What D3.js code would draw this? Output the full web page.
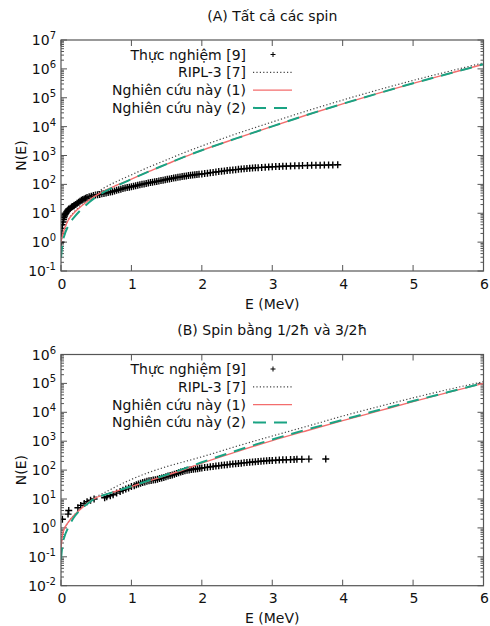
<!DOCTYPE html>
<html>
<head>
<meta charset="utf-8">
<script src="https://cdn.jsdelivr.net/npm/d3@7"></script>
<style>
  body { margin: 0; background: #fff; }
  svg { display: block; font-family: "DejaVu Sans", Verdana, sans-serif; }
</style>
</head>
<body>
<svg id="chart" width="490" height="626"></svg>
<script>
// ---- energies (MeV) at which the model curves are tabulated ----
const gridE = [0, 0.02, 0.05, 0.1, 0.2, 0.3, 0.4, 0.5, 0.6, 0.8, 1.0, 1.25, 1.5, 1.75, 2.0, 2.5, 3.0, 3.5, 4.0, 4.5, 5.0, 5.5, 6.0];

// ---- panel A: all spins, log10 N(E) ----
const riplA   = [0.0, 0.22, 0.47, 0.76, 1.08, 1.32, 1.53, 1.70, 1.86, 2.11, 2.33, 2.60, 2.85, 3.10, 3.33, 3.76, 4.16, 4.55, 4.92, 5.27, 5.60, 5.91, 6.21];
const model1A = [0.0, 0.22, 0.47, 0.75, 1.05, 1.27, 1.46, 1.62, 1.76, 1.98, 2.18, 2.45, 2.70, 2.95, 3.18, 3.60, 4.01, 4.41, 4.79, 5.15, 5.50, 5.83, 6.16];
const model2A = [-0.55, -0.05, 0.25, 0.55, 0.90, 1.16, 1.38, 1.57, 1.72, 1.96, 2.18, 2.45, 2.70, 2.95, 3.18, 3.60, 4.01, 4.41, 4.79, 5.15, 5.50, 5.83, 6.16];

// measured cumulative level counts, panel A
const expA_E = [0, 0.01, 0.015, 0.02, 0.03, 0.035, 0.04, 0.05, 0.06, 0.07, 0.08, 0.09, 0.10, 0.11, 0.13, 0.15, 0.16, 0.18, 0.19, 0.21, 0.23, 0.25, 0.27, 0.29, 0.31, 0.33, 0.35, 0.37, 0.40, 0.43, 0.46, 0.49,
  0.52, 0.55, 0.58, 0.61, 0.64, 0.67, 0.70, 0.73, 0.76, 0.79, 0.82, 0.85, 0.88, 0.91, 0.94, 0.97,
  1.00, 1.03, 1.06, 1.09, 1.12, 1.15, 1.18, 1.21, 1.24, 1.27, 1.30, 1.33, 1.36, 1.39, 1.42, 1.45, 1.48, 1.51, 1.54, 1.57, 1.60, 1.63, 1.66, 1.69, 1.72, 1.75, 1.78, 1.81, 1.84, 1.87, 1.90, 1.93, 1.96,
  2.00, 2.04, 2.08, 2.12, 2.16, 2.20, 2.24, 2.28, 2.32, 2.36, 2.40, 2.44, 2.48, 2.52, 2.56, 2.60, 2.64, 2.68, 2.72, 2.76, 2.80,
  2.85, 2.90, 2.95, 3.00, 3.05, 3.10, 3.15, 3.20,
  3.26, 3.32, 3.38, 3.43, 3.50, 3.56, 3.62, 3.68, 3.74, 3.80, 3.86, 3.93];
const expA_N = [1, 2, 3, 4, 5, 6, 7, 8, 9, 10, 11, 12, 13, 14, 15, 16, 17, 18, 19, 20, 22, 24, 26, 28, 30, 31, 33, 35, 37, 39, 41, 43,
  44, 45, 47, 48, 50, 52, 54, 56, 59, 62, 65, 68, 72, 75, 78, 80,
  83, 86, 90, 93, 97, 101, 104, 108, 111, 115, 119, 123, 127, 131, 135, 140, 145, 150, 155, 160, 166, 171, 176, 181, 186, 191, 196, 201, 205, 210, 215, 219, 224,
  229, 236, 244, 252, 260, 269, 277, 285, 293, 301, 309, 317, 324, 332, 340, 347, 354, 361, 367, 374, 380,
  387, 394, 401, 407, 412, 417, 422, 427,
  432, 438, 444, 447, 451, 455, 458, 462, 465, 468, 472, 477];

// ---- panel B: spin 1/2 and 3/2, log10 N(E) ----
const riplB   = [-0.7, -0.25, -0.02, 0.18, 0.48, 0.72, 0.92, 1.08, 1.20, 1.45, 1.68, 1.92, 2.12, 2.29, 2.46, 2.83, 3.18, 3.52, 3.87, 4.19, 4.50, 4.79, 5.06];
const model1B = [-0.7, -0.25, -0.02, 0.18, 0.47, 0.70, 0.90, 1.05, 1.13, 1.28, 1.43, 1.63, 1.82, 2.02, 2.24, 2.64, 3.02, 3.37, 3.71, 4.04, 4.37, 4.69, 5.00];
const model2B = [-1.1, -0.6, -0.3, 0.0, 0.42, 0.68, 0.88, 1.04, 1.13, 1.28, 1.44, 1.64, 1.84, 2.05, 2.27, 2.68, 3.06, 3.41, 3.74, 4.07, 4.39, 4.70, 5.01];

// measured cumulative level counts, panel B
const expB_E = [0.02, 0.10, 0.11, 0.24, 0.28, 0.33, 0.37, 0.42, 0.47, 0.62, 0.65, 0.70, 0.74, 0.79, 0.84, 0.88, 0.92, 0.96,
  1.00, 1.04, 1.07, 1.10, 1.13, 1.16, 1.19, 1.22, 1.25, 1.28, 1.31, 1.34, 1.37, 1.40, 1.43, 1.46, 1.49, 1.52, 1.55, 1.58, 1.61, 1.64, 1.67, 1.70, 1.73, 1.76, 1.79, 1.82, 1.85, 1.88, 1.91, 1.94, 1.97,
  2.00, 2.04, 2.08, 2.12, 2.16, 2.20, 2.24, 2.28, 2.32, 2.36, 2.40, 2.44, 2.48, 2.52, 2.56, 2.60, 2.64, 2.68, 2.72, 2.76, 2.80, 2.84, 2.88, 2.92, 2.96,
  3.00, 3.05, 3.10, 3.15, 3.20, 3.26, 3.31, 3.35, 3.42, 3.52, 3.76];
const expB_N = [2, 3, 4, 5, 6, 7, 8, 9, 10, 11, 12, 13, 14, 16, 18, 20, 22, 24,
  27, 29, 31, 33, 35, 37, 39, 41, 43, 44, 45, 46, 48, 51, 53, 56, 59, 62, 65, 68, 72, 76, 81, 86, 90, 95, 98, 101, 104, 107, 110, 112, 115,
  118, 122, 126, 130, 134, 138, 142, 146, 150, 154, 158, 162, 166, 170, 174, 178, 182, 186, 190, 194, 198, 202, 206, 210, 214,
  216, 220, 223, 226, 228, 231, 234, 236, 238, 240, 242];

// ---- axis ticks and texts ----
const xTicks = [0, 1, 2, 3, 4, 5, 6];
const legendLabels = ["Thực nghiệm [9]", "RIPL-3 [7]", "Nghiên cứu này (1)", "Nghiên cứu này (2)"];
const xLabel = "E (MeV)";
const yLabel = "N(E)";

const panels = [
  { title: "(A) Tất cả các spin", top: 40, bottom: 271, expLo: -1, expHi: 7,
    ripl: riplA, m1: model1A, m2: model2A, expE: expA_E, expN: expA_N },
  { title: "(B) Spin bằng 1/2ħ và 3/2ħ", top: 354.5, bottom: 585.7, expLo: -2, expHi: 6,
    ripl: riplB, m1: model1B, m2: model2B, expE: expB_E, expN: expB_N }
];

const svg = d3.select("#chart");
const left = 61, right = 483.5;
const x = d3.scaleLinear().domain([0, 6]).range([left, right]);
const frameColor = "#555";
const redColor = "#f36d6d";
const greenColor = "#1aa383";
const fs = 14;

function plus(sel, size) {
  const h = size / 2;
  return sel.attr("d", `M${-h},0H${h}M0,${-h}V${h}`);
}

panels.forEach((p, pi) => {
  const y = d3.scaleLog().domain([Math.pow(10, p.expLo), Math.pow(10, p.expHi)]).range([p.bottom, p.top]);
  const g = svg.append("g");
  const clipId = "clip" + pi;
  svg.append("clipPath").attr("id", clipId)
    .append("rect").attr("x", left).attr("y", p.top).attr("width", right - left).attr("height", p.bottom - p.top);

  // title
  g.append("text").attr("x", (left + right) / 2).attr("y", p.top - 19.5)
    .attr("text-anchor", "middle").attr("font-size", fs).attr("fill", "#111").text(p.title);

  // y ticks: majors at decades, minors at 2..9
  const majors = d3.range(p.expLo, p.expHi + 1);
  const minors = [];
  for (let k = p.expLo; k < p.expHi; k++) for (let m = 2; m <= 9; m++) minors.push(m * Math.pow(10, k));
  const tg = g.append("g").attr("stroke", frameColor).attr("stroke-width", 1);
  majors.forEach(k => {
    const yy = y(Math.pow(10, k));
    tg.append("line").attr("x1", left).attr("x2", left + 6).attr("y1", yy).attr("y2", yy);
    tg.append("line").attr("x1", right).attr("x2", right - 6).attr("y1", yy).attr("y2", yy);
  });
  minors.forEach(v => {
    const yy = y(v);
    tg.append("line").attr("x1", left).attr("x2", left + 3).attr("y1", yy).attr("y2", yy);
    tg.append("line").attr("x1", right).attr("x2", right - 3).attr("y1", yy).attr("y2", yy);
  });
  // x ticks, bottom and mirrored at top
  xTicks.forEach(t => {
    tg.append("line").attr("x1", x(t)).attr("x2", x(t)).attr("y1", p.bottom).attr("y2", p.bottom - 6);
    tg.append("line").attr("x1", x(t)).attr("x2", x(t)).attr("y1", p.top).attr("y2", p.top + 6);
  });

  // y tick labels 10^k
  majors.forEach(k => {
    const t = g.append("text").attr("x", 56).attr("y", y(Math.pow(10, k)) + 5)
      .attr("text-anchor", "end").attr("font-size", fs).attr("fill", "#111");
    t.append("tspan").text("10");
    t.append("tspan").attr("dy", -6).attr("font-size", 10).text(String(k));
  });
  // x tick labels
  xTicks.forEach(t => {
    g.append("text").attr("x", x(t) + 1).attr("y", p.bottom + 17.5)
      .attr("text-anchor", "middle").attr("font-size", fs).attr("fill", "#111").text(t);
  });
  // axis titles
  g.append("text").attr("x", (left + right) / 2).attr("y", p.bottom + 37.5)
    .attr("text-anchor", "middle").attr("font-size", fs).attr("fill", "#111").text(xLabel);
  g.append("text").attr("transform", `translate(26,${(p.top + p.bottom) / 2}) rotate(-90)`)
    .attr("text-anchor", "middle").attr("font-size", fs).attr("fill", "#111").text(yLabel);

  // plotted data
  const plot = g.append("g").attr("clip-path", `url(#${clipId})`);
  const pts = p.expE.map((e, i) => [e, p.expN[i]]).filter(d => d[1] !== undefined);
  plot.append("g").selectAll("path").data(pts).join("path")
    .call(plus, 7)
    .attr("transform", d => `translate(${x(d[0])},${y(d[1])})`)
    .attr("stroke", "#000").attr("stroke-width", 1.4).attr("fill", "none");

  const line = d3.line().x(d => x(d[0])).y(d => y(Math.pow(10, d[1]))).curve(d3.curveMonotoneX);
  const series = (arr) => gridE.map((e, i) => [e, arr[i]]);
  plot.append("path").attr("d", line(series(p.ripl))).attr("fill", "none")
    .attr("stroke", "#444").attr("stroke-width", 1.2).attr("stroke-dasharray", "1.2,2.2");
  plot.append("path").attr("d", line(series(p.m1))).attr("fill", "none")
    .attr("stroke", redColor).attr("stroke-width", 1.4);
  plot.append("path").attr("d", line(series(p.m2))).attr("fill", "none")
    .attr("stroke", greenColor).attr("stroke-width", 2).attr("stroke-dasharray", "12,8");

  // frame
  g.append("rect").attr("x", left).attr("y", p.top).attr("width", right - left).attr("height", p.bottom - p.top)
    .attr("fill", "none").attr("stroke", frameColor).attr("stroke-width", 1.2);

  // legend
  const ly0 = p.top + 14.5, dy = 17.8;
  legendLabels.forEach((lab, i) => {
    const yy = ly0 + i * dy;
    g.append("text").attr("x", 246).attr("y", yy + 5).attr("text-anchor", "end")
      .attr("font-size", fs).attr("fill", "#111").text(lab);
  });
  g.append("path").call(plus, 5).attr("transform", `translate(273,${ly0})`)
    .attr("stroke", "#000").attr("stroke-width", 1);
  g.append("line").attr("x1", 253).attr("x2", 292).attr("y1", ly0 + dy).attr("y2", ly0 + dy)
    .attr("stroke", "#444").attr("stroke-width", 1.2).attr("stroke-dasharray", "1.2,2.2");
  g.append("line").attr("x1", 253).attr("x2", 292).attr("y1", ly0 + 2 * dy).attr("y2", ly0 + 2 * dy)
    .attr("stroke", redColor).attr("stroke-width", 1.4);
  g.append("line").attr("x1", 253).attr("x2", 292).attr("y1", ly0 + 3 * dy).attr("y2", ly0 + 3 * dy)
    .attr("stroke", greenColor).attr("stroke-width", 2).attr("stroke-dasharray", "13,8");
});
</script>
</body>
</html>
